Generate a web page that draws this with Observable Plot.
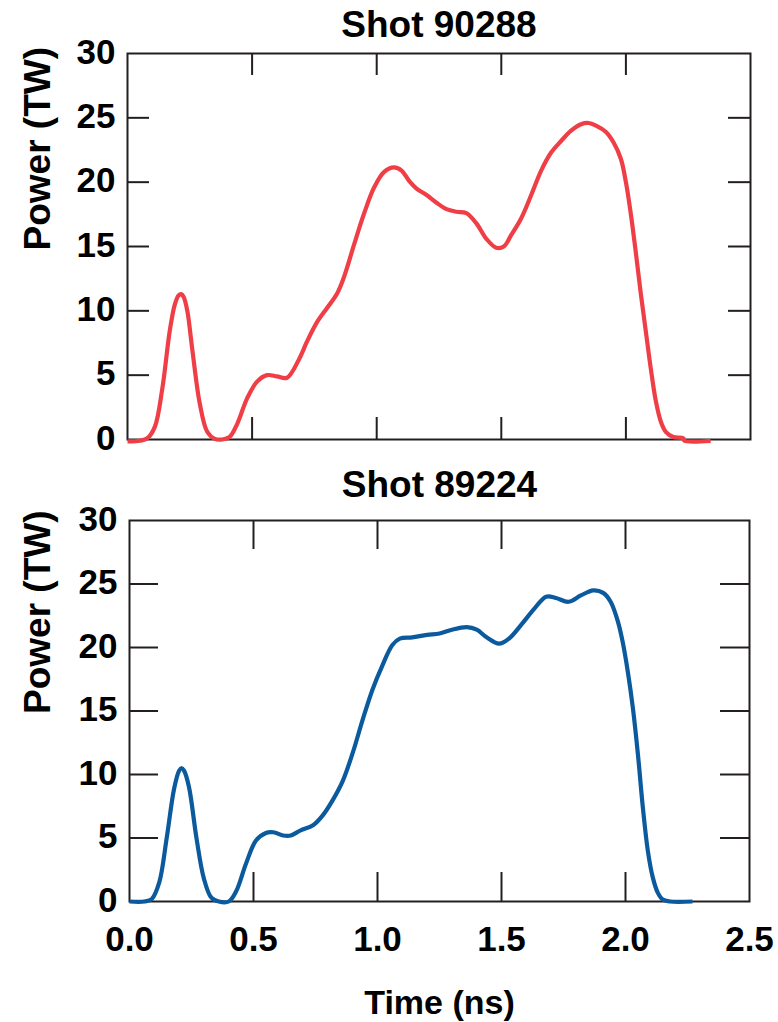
<!DOCTYPE html>
<html>
<head>
<meta charset="utf-8">
<script src="https://cdn.jsdelivr.net/npm/d3@7"></script>
<script src="https://cdn.jsdelivr.net/npm/@observablehq/plot@0.6"></script>
<style>
  html, body { margin: 0; padding: 0; background: #fff; }
  #chart { width: 778px; }
  #chart svg { display: block; }
</style>
</head>
<body>
<div id="chart"></div>
<script>
// Laser pulse shapes: power (TW) vs time (ns) for two shots
const shotTitles = ["Shot 90288", "Shot 89224"];

const timeA = [0.00, 0.05, 0.08, 0.11, 0.14, 0.17, 0.19, 0.205, 0.215, 0.225, 0.24, 0.26, 0.29, 0.32, 0.35, 0.38, 0.41, 0.44, 0.48, 0.52, 0.56, 0.60, 0.64, 0.69, 0.72, 0.76, 0.80, 0.84, 0.87, 0.91, 0.95, 0.99, 1.03, 1.07, 1.10, 1.13, 1.16, 1.20, 1.24, 1.28, 1.32, 1.36, 1.40, 1.44, 1.48, 1.51, 1.54, 1.58, 1.62, 1.66, 1.70, 1.74, 1.78, 1.82, 1.85, 1.88, 1.92, 1.95, 1.98, 2.00, 2.02, 2.04, 2.06, 2.08, 2.10, 2.12, 2.14, 2.16, 2.19, 2.23, 2.235, 2.34];
const powerA = [-0.15, -0.1, 0.1, 1.0, 4.0, 8.5, 10.5, 11.2, 11.3, 11.1, 10.0, 7.0, 2.8, 0.6, 0.05, 0.0, 0.2, 1.2, 3.2, 4.5, 5.0, 4.9, 4.8, 6.3, 7.6, 9.1, 10.2, 11.3, 12.7, 15.2, 17.6, 19.6, 20.8, 21.15, 20.9, 20.1, 19.5, 19.0, 18.4, 17.9, 17.7, 17.6, 16.8, 15.6, 14.9, 15.0, 15.9, 17.2, 19.0, 20.9, 22.3, 23.2, 24.0, 24.5, 24.6, 24.4, 23.9, 23.1, 21.8, 20.0, 17.5, 14.5, 11.3, 8.4, 5.5, 3.0, 1.4, 0.6, 0.2, 0.1, -0.1, -0.1];

const timeB = [0.00, 0.06, 0.09, 0.12, 0.15, 0.18, 0.20, 0.21, 0.22, 0.24, 0.27, 0.30, 0.33, 0.36, 0.40, 0.43, 0.47, 0.51, 0.55, 0.58, 0.62, 0.65, 0.69, 0.74, 0.78, 0.82, 0.86, 0.90, 0.94, 0.98, 1.02, 1.06, 1.09, 1.14, 1.20, 1.25, 1.30, 1.36, 1.40, 1.44, 1.49, 1.53, 1.58, 1.63, 1.68, 1.72, 1.77, 1.82, 1.87, 1.91, 1.94, 1.97, 1.99, 2.01, 2.03, 2.05, 2.07, 2.09, 2.11, 2.13, 2.15, 2.18, 2.27];
const powerB = [0.0, 0.0, 0.2, 1.5, 5.0, 8.9, 10.3, 10.5, 10.3, 9.0, 5.0, 1.8, 0.3, 0.0, 0.0, 0.8, 3.0, 4.8, 5.4, 5.45, 5.2, 5.2, 5.6, 6.0, 6.8, 8.0, 9.5, 11.7, 14.3, 16.7, 18.6, 20.2, 20.7, 20.8, 21.0, 21.1, 21.4, 21.6, 21.4, 20.8, 20.3, 20.7, 21.8, 23.0, 24.0, 23.9, 23.6, 24.1, 24.5, 24.3, 23.6, 22.0, 20.3, 18.0, 15.2, 11.6, 7.4, 4.0, 1.9, 0.7, 0.15, 0.0, 0.0];

const xTicks = [0, 0.5, 1.0, 1.5, 2.0, 2.5];
const yTicks = [0, 5, 10, 15, 20, 25, 30];
const lineColors = ["#ef3e46", "#0b5a9e"];

const ink = "#231f20";
const font = "'Liberation Sans', Arial, Helvetica, sans-serif";

function panel({title, time, power, color, height, margins, tickLen, titleDy, labelDx, labelDy, showX}) {
  const data = time.map((t, i) => ({t, p: power[i]}));
  const innerW = 778 - margins.left - margins.right;
  const innerH = height - margins.top - margins.bottom;
  const inner = (arr) => arr.slice(1, -1);
  const marks = [
    // inward tick marks on all four sides
    Plot.ruleY(inner(yTicks), {stroke: ink, strokeWidth: 2, insetRight: innerW - tickLen}),
    Plot.ruleY(inner(yTicks), {stroke: ink, strokeWidth: 2, insetLeft: innerW - tickLen}),
    Plot.ruleX(inner(xTicks), {stroke: ink, strokeWidth: 2, insetTop: innerH - tickLen}),
    Plot.ruleX(inner(xTicks), {stroke: ink, strokeWidth: 2, insetBottom: innerH - tickLen}),
    Plot.frame({stroke: ink, strokeWidth: 2}),
    Plot.axisY(yTicks, {tickSize: 0, tickPadding: 12, fontSize: 35, fontWeight: "bold", fill: "#000", dy: -1}),
    Plot.line(data, {x: "t", y: "p", stroke: color, strokeWidth: 4.2, curve: "catmull-rom", strokeLinejoin: "round", strokeLinecap: "butt"}),
    Plot.text([title], {frameAnchor: "top", lineAnchor: "middle", dy: titleDy, fontSize: 37, fontWeight: "bold", fill: "#000"}),
    Plot.text(["Power (TW)"], {frameAnchor: "left", lineAnchor: "middle", dx: labelDx, dy: labelDy, rotate: -90, fontSize: 37, fontWeight: "bold", fill: "#000"})
  ];
  if (showX) {
    marks.push(
      Plot.axisX(xTicks, {tickSize: 0, tickPadding: 25, fontSize: 35, fontWeight: "bold", fill: "#000", tickFormat: d3.format(".1f")}),
      Plot.text(["Time (ns)"], {frameAnchor: "bottom", lineAnchor: "middle", dy: 102, fontSize: 34, fontWeight: "bold", fill: "#000"})
    );
  } else {
    marks.push(Plot.axisX({ticks: [], label: null, tickSize: 0}));
  }
  return Plot.plot({
    width: 778,
    height,
    marginTop: margins.top,
    marginBottom: margins.bottom,
    marginLeft: margins.left,
    marginRight: margins.right,
    style: {fontFamily: font, background: "#fff", overflow: "visible"},
    x: {domain: [0, 2.5], label: null},
    y: {domain: [0, 30], label: null},
    marks
  });
}

const chart = document.getElementById("chart");
chart.append(panel({
  title: shotTitles[0], time: timeA, power: powerA, color: lineColors[0],
  height: 460, margins: {top: 53, bottom: 21, left: 127, right: 28},
  tickLen: 22, titleDy: -28, labelDx: -89, labelDy: 4, showX: false
}));
chart.append(panel({
  title: shotTitles[1], time: timeB, power: powerB, color: lineColors[1],
  height: 562, margins: {top: 60, bottom: 121, left: 129, right: 29},
  tickLen: 29, titleDy: -35, labelDx: -91, labelDy: 3, showX: true
}));
</script>
</body>
</html>
